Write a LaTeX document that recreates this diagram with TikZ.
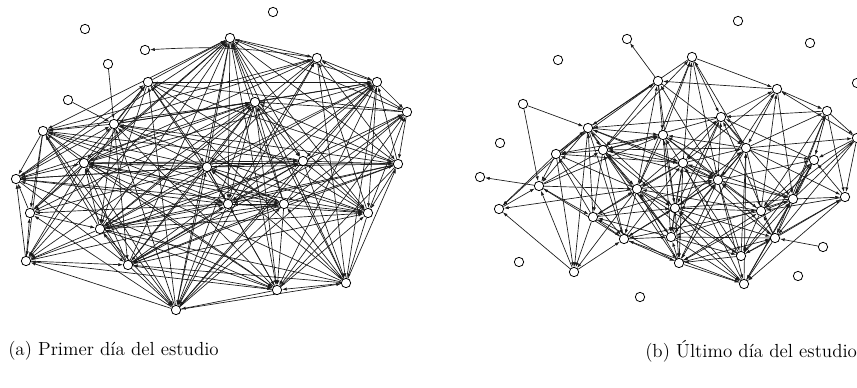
\documentclass[tikz,border=0pt]{standalone}
\usetikzlibrary{arrows.meta}
\tikzset{>={Latex[length=3.5pt,width=2.4pt]}}
\pgfdeclarelayer{bg}
\pgfsetlayers{bg,main}

\tikzset{
  vert/.style={circle, draw, fill=white, line width=0.6pt, minimum size=7pt, inner sep=0pt},
  link/.style={->, line width=0.5pt, black!90},
  captxt/.style={anchor=west, inner sep=0pt, font=\fontsize{14.2}{17}\selectfont}
}

% linked nodes of both networks: index/x/y
\def\coreA{4/148/82, 6/114/124, 7/43/131, 9/230/38, 10/317/58, 11/377/82,
  12/407/112, 13/255/102, 14/16/179, 15/84/163, 16/30/213, 17/100/229,
  18/26/261, 19/128/265, 20/176/310, 21/207/167, 22/303/161, 23/398/164,
  24/228/204, 25/284/204, 26/368/213, 27/346/283, 28/277/290}
\def\coreB{1/658/81, 2/692/57, 3/777/89, 4/827/111, 5/588/128, 6/663/135,
  7/721/117, 8/603/150, 9/556/154, 10/746/148, 11/814/160, 12/683/163,
  13/718/180, 14/539/186, 15/637/189, 16/499/209, 17/593/217, 18/675/208,
  19/761/211, 20/793/199, 21/845/197, 22/624/239, 23/671/237, 24/741/256,
  25/775/238, 26/574/272, 27/679/263, 28/744/284, 29/857/138}

\begin{document}
\begin{tikzpicture}[x=0.75pt, y=-0.75pt]
  \useasboundingbox (0,0) rectangle (857,388);
  % first day
  \foreach \i/\x/\y in \coreA
    \node[vert] (a\i) at (\x,\y) {};
  \foreach \i/\x/\y in {1/85/29, 2/145/50, 3/108/64, 5/68/100, 8/273/12}
    \node[vert] (a\i) at (\x,\y) {};
  \begin{pgfonlayer}{bg}
    \foreach \i/\x/\y in \coreA {
      \foreach \j/\u/\v in \coreA {
        \ifnum\i<\j\relax
          \pgfmathtruncatemacro\ok{(veclen(\x-\u,\y-\v)<320) && (mod(\i+2*\j,6)!=0)}
          \ifnum\ok=1\relax
            \ifodd\numexpr\i+\j\relax \draw[link] (a\i) -- (a\j);
            \else \draw[link] (a\j) -- (a\i); \fi
          \fi
        \fi
      }
    }
    \draw[link] (a10) to[bend right=6] (a2);
    \draw[link] (a3) -- (a6);
    \draw[link] (a5) -- (a6);
  \end{pgfonlayer}

  % last day
  \foreach \i/\x/\y in \coreB
    \node[vert] (b\i) at (\x,\y) {};
  \foreach \i/\x/\y in {30/627/39, 31/738/21, 32/810/43, 33/558/60, 34/523/104,
      35/500/143, 36/480/177, 37/857/83, 38/519/262, 39/640/297, 40/823/247, 41/798/276}
    \node[vert] (b\i) at (\x,\y) {};
  \begin{pgfonlayer}{bg}
    \foreach \i/\x/\y in \coreB {
      \foreach \j/\u/\v in \coreB {
        \ifnum\i<\j\relax
          \pgfmathtruncatemacro\ok{(veclen(\x-\u,\y-\v)<145) && (mod(\i+2*\j,5)!=0)}
          \ifnum\ok=1\relax
            \ifodd\numexpr\i+\j\relax \draw[link] (b\i) -- (b\j);
            \else \draw[link] (b\j) -- (b\i); \fi
          \fi
        \fi
      }
    }
    \draw[link] (b1) -- (b30);
    \draw[link] (b14) -- (b36);
    \draw[link] (b34) -- (b5);
    \draw[link] (b34) -- (b14);
    \draw[link] (b40) -- (b25);
  \end{pgfonlayer}

  % captions
  \node[captxt] (capA) at (8,351) {(a) Primer día del estudio};
  \node[captxt] (capB) at (645,351) {(b) Último día del estudio};
\end{tikzpicture}
\end{document}
